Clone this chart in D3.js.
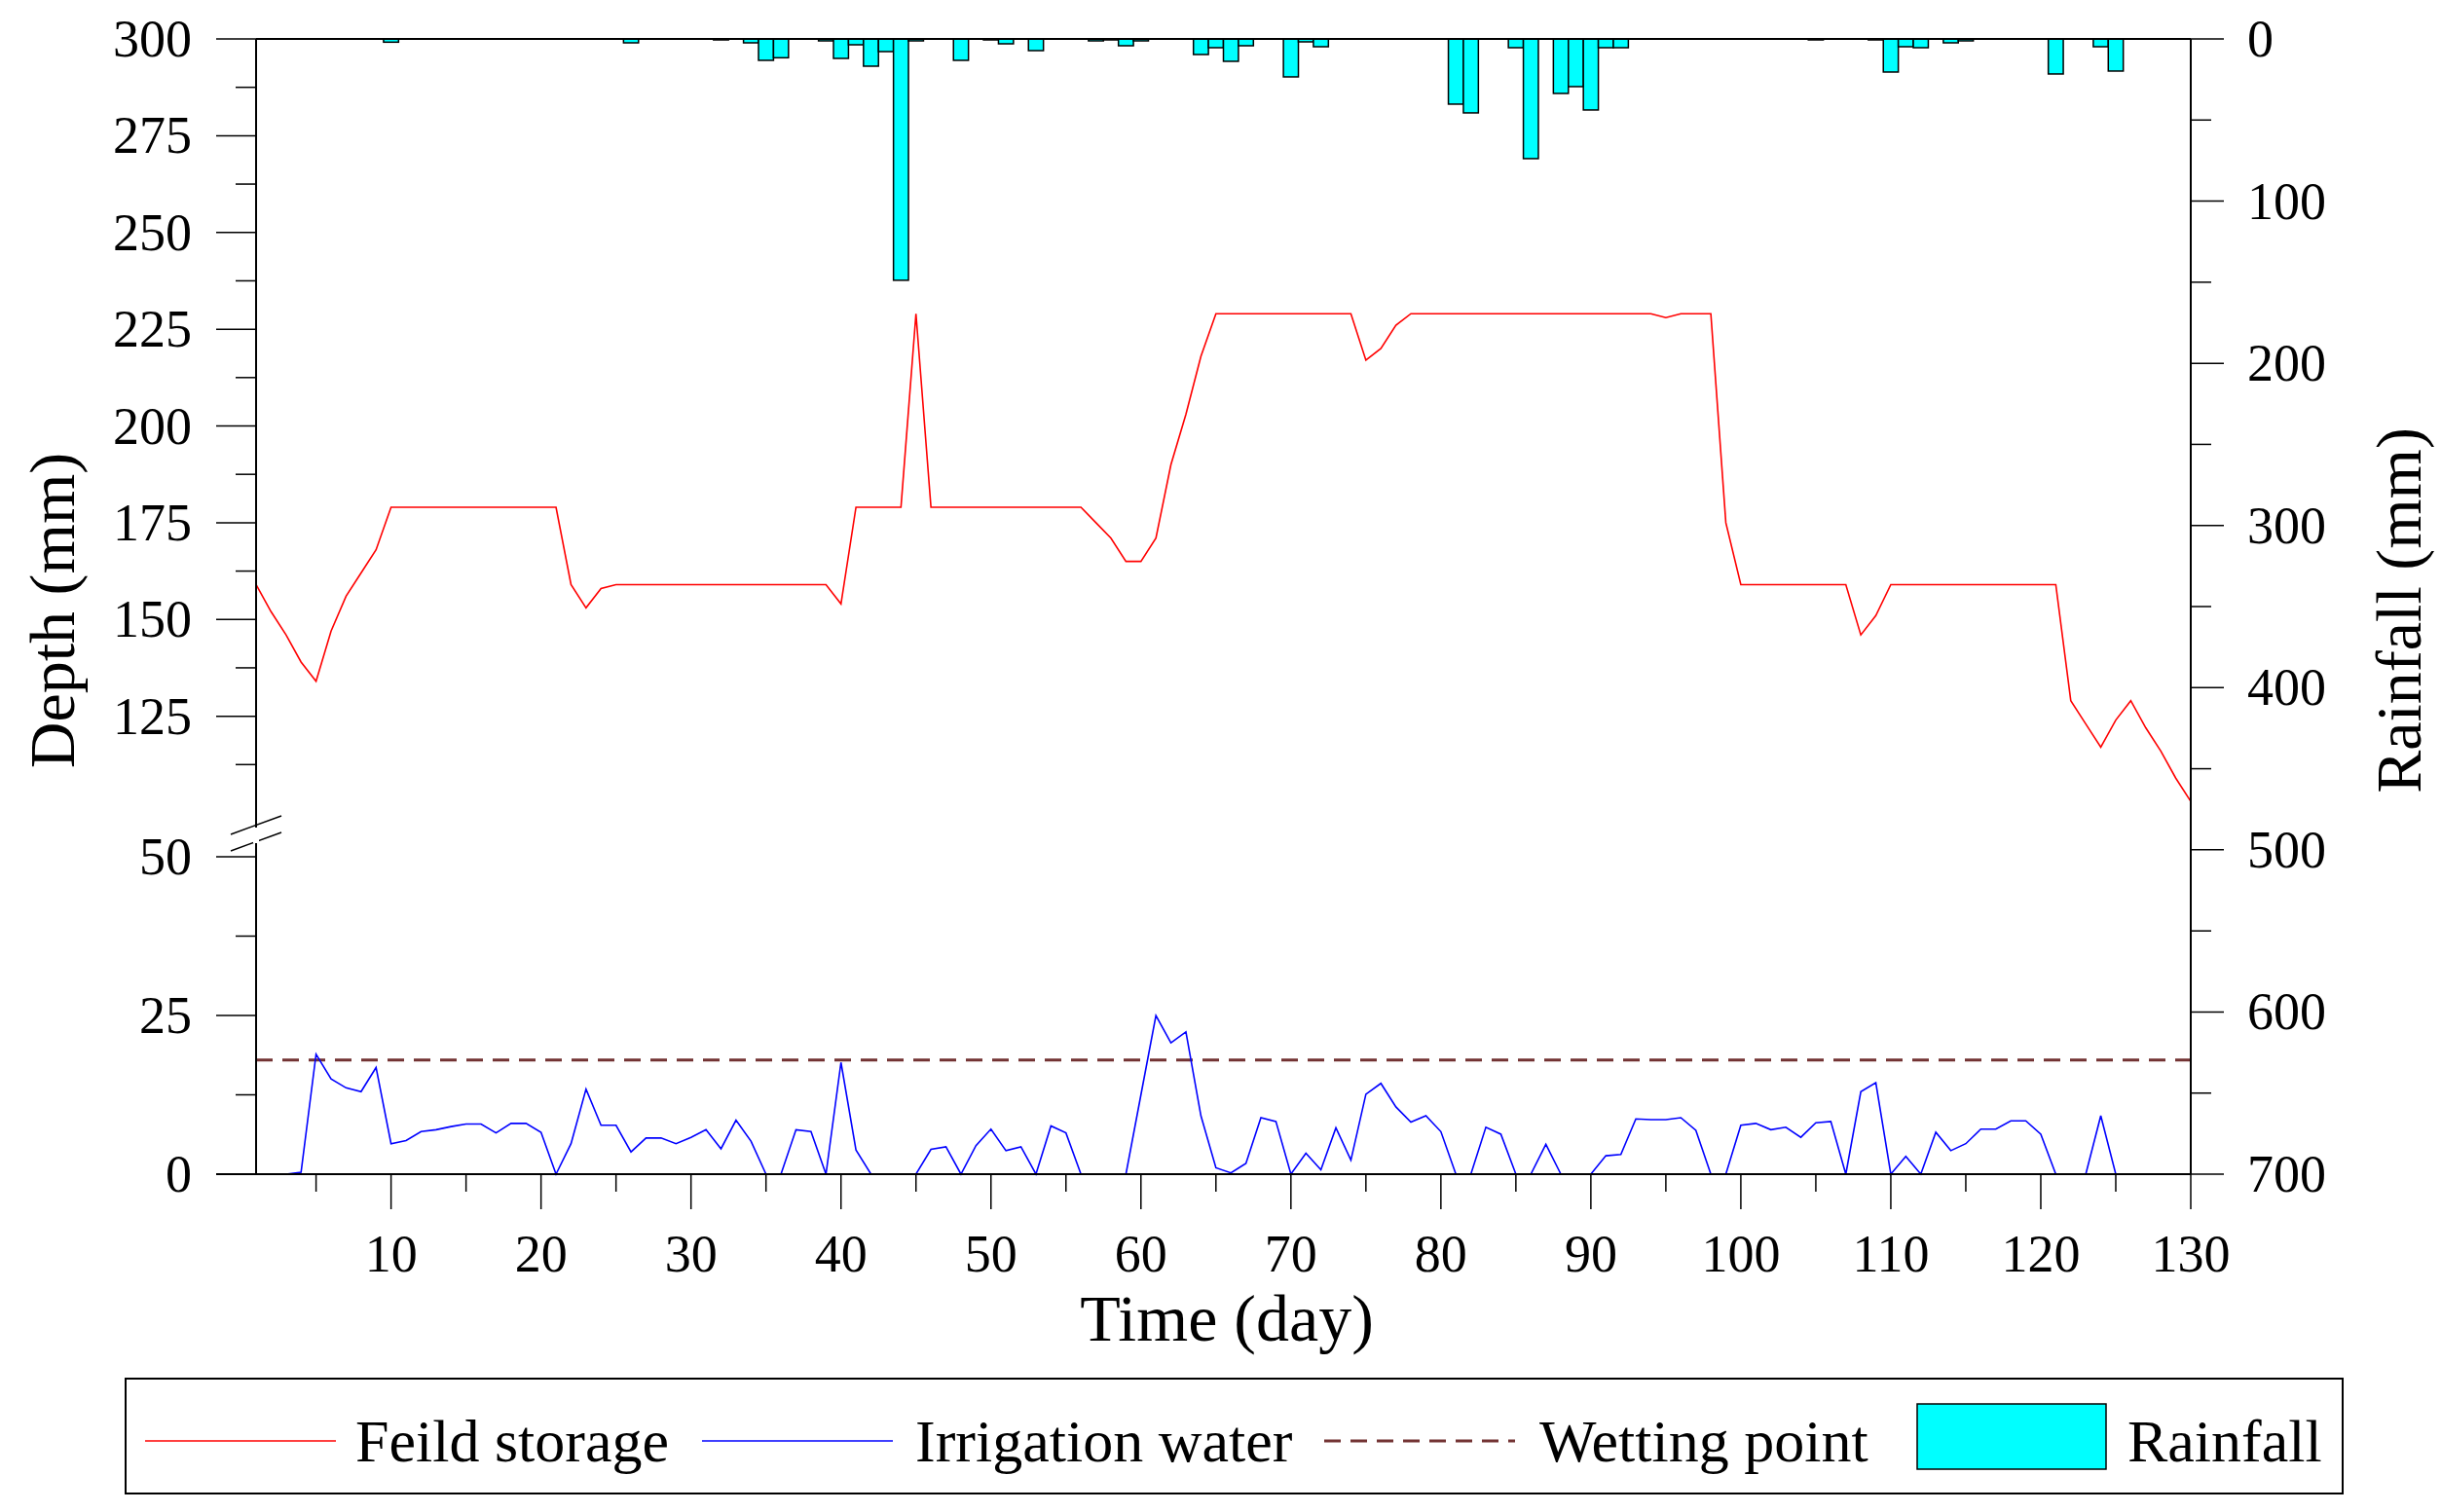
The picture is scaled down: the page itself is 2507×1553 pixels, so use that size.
<!DOCTYPE html>
<html><head><meta charset="utf-8">
<script src="https://cdn.jsdelivr.net/npm/d3@7"></script>
<style>body{margin:0;background:#fff}</style></head>
<body><svg id="c" width="2507" height="1553"></svg>
<script>
const days = d3.range(1, 131);
const fieldStorage = [159,152,146,139,134,147,156,162,168,179, 179,179,179,179,179,179,179,179,179,179, 179,159,153,158,159,159,159,159,159,159,
 159,159,159,159,159,159,159,159,159,154, 179,179,179,179,229,179,179,179,179,179, 179,179,179,179,179,179,175,171,165,165,
 171,190,203,218,229,229,229,229,229,229, 229,229,229,229,217,220,226,229,229,229, 229,229,229,229,229,229,229,229,229,229,
 229,229,229,229,228,229,229,229,175,159, 159,159,159,159,159,159,159,146,151,159, 159,159,159,159,159,159,159,159,159,159,
 159,129,123,117,124,129,122,116,109,103];
const irrigation = [0,0,0,0.3,18.9,15,13.6,13,16.8,4.8, 5.3,6.7,7,7.5,7.9,7.9,6.5,8,8,6.6, 0,4.8,13.4,7.7,7.7,3.5,5.7,5.7,4.8,5.8,
 7,4,8.5,5.2,0,0,7,6.7,0,17.6, 3.8,0,0,0,0,3.9,4.3,0,4.5,7.1, 3.7,4.3,0,7.6,6.5,0,0,0,0,12.5,
 25,20.7,22.4,9.2,1,0.2,1.7,8.9,8.3,0, 3.3,0.7,7.3,2.2,12.6,14.3,10.6,8.2,9.2,6.7, 0,0,7.4,6.3,0,0,4.7,0,0,0,
 2.9,3.1,8.7,8.6,8.6,8.9,6.9,0,0,7.7, 8,7,7.4,5.8,8.1,8.3,0,13,14.4,0, 2.8,0,6.6,3.7,4.8,7.1,7.1,8.4,8.4,6.3,
 0,0,0,9.2,0,0,0,0,0,0];
const wettingPoint = 18;
const rainDays = [10,26,32,34,35,36,39,40,41,42,43,44,45,48,50,51,53,57,58,59,60,64,65,66,67,70,71,72,
 81,82,85,86,88,89,90,91,92,105,109,110,111,112,114,115,121,124,125];
const rainVals = [2,2.4,0.6,2.4,13.2,11.6,1.2,12,3.6,16.8,7.8,148.8,1.2,13.2,0.6,3,7.2,1.2,0.6,4.2,1.2,9.6,5.4,13.8,4.2,23.4,1.8,4.8,
 40.2,45.6,5.4,73.8,33.6,29.4,43.8,5.4,5.4,0.6,0.6,20.4,4.8,5.4,2.4,1.2,21.6,4.8,19.8];
const xTicks = d3.range(10, 131, 10);
const upperTicks = [125,150,175,200,225,250,275,300];
const lowerTicks = [0,25,50];
const rightTicks = d3.range(0, 701, 100);
const legendLabels = ["Feild storage","Irrigation water","Wetting point","Rainfall"];

const svg = d3.select("#c");
const FONT = "Liberation Serif, Times New Roman, serif";
const L = 263, R = 2250, T = 40, B = 1206;
const x = d3.scaleLinear().domain([1,130]).range([L,R]);
const yU = d3.scaleLinear().domain([100,300]).range([835,40]);
const yL = d3.scaleLinear().domain([0,50]).range([1206,880]);
const yD = v => v >= 75 ? yU(v) : yL(v);
const yR = d3.scaleLinear().domain([0,700]).range([T,B]);
const dw = x(2) - x(1);

svg.append("g").selectAll("rect").data(rainDays).join("rect")
  .attr("x", (d)=>x(d)-dw/2).attr("y", T).attr("width", dw)
  .attr("height", (d,i)=>yR(rainVals[i])-T)
  .attr("fill","#00ffff").attr("stroke","#000").attr("stroke-width",1.5);

svg.append("line").attr("x1",L).attr("x2",R).attr("y1",yL(wettingPoint)).attr("y2",yL(wettingPoint))
  .attr("stroke","#733333").attr("stroke-width",3).attr("stroke-dasharray","17,10");

const line = d3.line();
svg.append("path").attr("d", line(days.map((d,i)=>[x(d), yD(fieldStorage[i])])))
  .attr("fill","none").attr("stroke","#ff0000").attr("stroke-width",1.6);
svg.append("path").attr("d", line(days.map((d,i)=>[x(d), yL(irrigation[i])])))
  .attr("fill","none").attr("stroke","#0000ff").attr("stroke-width",1.6);

const ax = svg.append("g").attr("stroke","#000").attr("stroke-width",2);
ax.append("line").attr("x1",L).attr("x2",R).attr("y1",T).attr("y2",T);
ax.append("line").attr("x1",222).attr("x2",R).attr("y1",B).attr("y2",B);
ax.append("line").attr("x1",L).attr("x2",L).attr("y1",T).attr("y2",B);
ax.append("line").attr("x1",R).attr("x2",R).attr("y1",T).attr("y2",B);
svg.append("rect").attr("x",L-3).attr("y",850).attr("width",6).attr("height",16).attr("fill","#fff");
[0,17].forEach(o=>ax.append("line").attr("x1",237).attr("x2",289).attr("y1",857+o).attr("y2",838+o).attr("stroke-width",1.5));

d3.range(5,131,5).forEach(v=>{
  const maj = v%10===0;
  ax.append("line").attr("x1",x(v)).attr("x2",x(v)).attr("y1",B).attr("y2",B+(maj?36:18)).attr("stroke-width",1.5);
});
svg.append("g").selectAll("text").data(xTicks).join("text")
  .attr("x",d=>x(d)).attr("y",1306).attr("text-anchor","middle")
  .attr("font-family",FONT).attr("font-size",54).text(d=>d);

const upMinor = d3.range(112.5, 300.1, 12.5);
upMinor.forEach(v=>{
  const maj = upperTicks.includes(v);
  ax.append("line").attr("x1",L-(maj?41:21)).attr("x2",L).attr("y1",yU(v)).attr("y2",yU(v)).attr("stroke-width",1.5);
});
[12.5,25,37.5,50].forEach(v=>{
  const maj = lowerTicks.includes(v);
  ax.append("line").attr("x1",L-(maj?41:21)).attr("x2",L).attr("y1",yL(v)).attr("y2",yL(v)).attr("stroke-width",1.5);
});
svg.append("g").selectAll("text").data(upperTicks).join("text")
  .attr("x",197).attr("y",d=>yU(d)+18).attr("text-anchor","end")
  .attr("font-family",FONT).attr("font-size",54).text(d=>d);
svg.append("g").selectAll("text").data(lowerTicks).join("text")
  .attr("x",197).attr("y",d=>yL(d)+18).attr("text-anchor","end")
  .attr("font-family",FONT).attr("font-size",54).text(d=>d);

d3.range(0,701,50).forEach(v=>{
  const maj = v%100===0;
  ax.append("line").attr("x1",R).attr("x2",R+(maj?34:21)).attr("y1",yR(v)).attr("y2",yR(v)).attr("stroke-width",1.5);
});
svg.append("g").selectAll("text").data(rightTicks).join("text")
  .attr("x",2308).attr("y",d=>yR(d)+18).attr("text-anchor","start")
  .attr("font-family",FONT).attr("font-size",54).text(d=>d);

svg.append("text").attr("transform","translate(76,627) rotate(-90)").attr("text-anchor","middle")
  .attr("font-family",FONT).attr("font-size",66).text("Depth (mm)");
svg.append("text").attr("transform","translate(2486,627) rotate(-90)").attr("text-anchor","middle")
  .attr("font-family",FONT).attr("font-size",66).text("Rainfall (mm)");
svg.append("text").attr("x",1260).attr("y",1377).attr("text-anchor","middle")
  .attr("font-family",FONT).attr("font-size",68).text("Time (day)");

svg.append("rect").attr("x",129).attr("y",1416).attr("width",2406-129).attr("height",1534-1416)
  .attr("fill","none").attr("stroke","#000").attr("stroke-width",2);
const ly = 1480;
svg.append("line").attr("x1",149).attr("x2",345).attr("y1",ly).attr("y2",ly).attr("stroke","#ff0000").attr("stroke-width",1.6);
svg.append("line").attr("x1",721).attr("x2",917).attr("y1",ly).attr("y2",ly).attr("stroke","#0000ff").attr("stroke-width",1.6);
svg.append("line").attr("x1",1360).attr("x2",1556).attr("y1",ly).attr("y2",ly).attr("stroke","#733333").attr("stroke-width",3).attr("stroke-dasharray","17,10");
svg.append("rect").attr("x",1969).attr("y",1442).attr("width",194).attr("height",67).attr("fill","#00ffff").attr("stroke","#000").attr("stroke-width",1.5);
const lx = [365,940,1581,2185];
svg.append("g").selectAll("text").data(legendLabels).join("text")
  .attr("x",(d,i)=>lx[i]).attr("y",ly+21).attr("font-family",FONT).attr("font-size",62).text(d=>d);
</script></body></html>
